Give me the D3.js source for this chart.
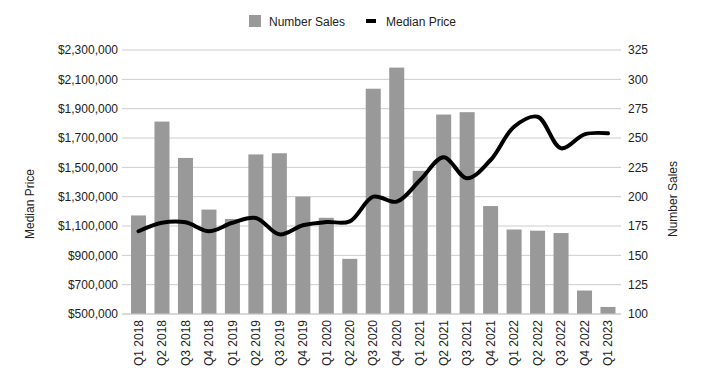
<!DOCTYPE html>
<html><head><meta charset="utf-8">
<script src="https://cdn.jsdelivr.net/npm/d3@7"></script>
<style>body{margin:0;background:#fff;} text{font-family:"Liberation Sans",Arial,sans-serif;}</style>
</head><body><svg id="c" width="703" height="389"></svg>
<script>
const categories = ["Q1 2018","Q2 2018","Q3 2018","Q4 2018","Q1 2019","Q2 2019","Q3 2019","Q4 2019","Q1 2020","Q2 2020","Q3 2020","Q4 2020","Q1 2021","Q2 2021","Q3 2021","Q4 2021","Q1 2022","Q2 2022","Q3 2022","Q4 2022","Q1 2023"];
const numberSales = [184,264,233,189,181,236,237,200,182,147,292,310,222,270,272,192,172,171,169,120,106];
const medianPrice = [1064000,1122000,1125000,1064000,1122000,1155000,1043000,1105000,1127000,1132000,1300000,1266000,1414000,1568000,1425000,1550000,1777000,1845000,1630000,1725000,1732000];
const leftTicks = [500000,700000,900000,1100000,1300000,1500000,1700000,1900000,2100000,2300000];
const rightTicks = [100,125,150,175,200,225,250,275,300,325];

const svg = d3.select("#c");
const L = 122, R = 621, T = 50, B = 314;
const x = d3.scaleBand().domain(categories).range([131, 615.5]).paddingInner(0.36).paddingOuter(0);
const yL = d3.scaleLinear().domain([500000, 2300000]).range([B, T]);
const yR = d3.scaleLinear().domain([100, 325]).range([B, T]);
const fmt = d3.format("$,");

// gridlines
svg.append("g").selectAll("line").data(leftTicks).join("line")
  .attr("x1", L).attr("x2", R).attr("y1", d => yL(d)).attr("y2", d => yL(d))
  .attr("stroke", "#cccccc").attr("stroke-width", 1);

// left axis
const la = svg.append("g").attr("transform", `translate(${L},0)`)
  .call(d3.axisLeft(yL).tickValues(leftTicks).tickFormat(fmt).tickSize(0).tickPadding(4));
la.select(".domain").remove();
la.selectAll("text").attr("font-size", 12).attr("fill", "#222").attr("font-family", "Liberation Sans, Arial, sans-serif");

// right axis
const ra = svg.append("g").attr("transform", `translate(${R},0)`)
  .call(d3.axisRight(yR).tickValues(rightTicks).tickSize(0).tickPadding(7));
ra.select(".domain").remove();
ra.selectAll("text").attr("font-size", 12).attr("fill", "#222").attr("font-family", "Liberation Sans, Arial, sans-serif");

// bars
svg.append("g").selectAll("rect").data(categories).join("rect")
  .attr("x", d => x(d)).attr("width", x.bandwidth())
  .attr("y", (d, i) => yR(numberSales[i])).attr("height", (d, i) => B - yR(numberSales[i]))
  .attr("fill", "#999999");

// baseline
svg.append("line").attr("x1", L).attr("x2", R).attr("y1", B).attr("y2", B).attr("stroke", "#cccccc");

// line
const line = d3.line().x((d, i) => x(categories[i]) + x.bandwidth() / 2).y(d => yL(d)).curve(d3.curveCatmullRom.alpha(0.5));
svg.append("path").datum(medianPrice).attr("d", line)
  .attr("fill", "none").attr("stroke", "#000").attr("stroke-width", 4).attr("stroke-linejoin", "round").attr("stroke-linecap", "round");

// x axis
const xa = svg.append("g").attr("transform", `translate(0,${B})`)
  .call(d3.axisBottom(x).tickSize(0).tickPadding(0));
xa.select(".domain").remove();
xa.selectAll("text").attr("font-size", 12).attr("fill", "#222").attr("font-family", "Liberation Sans, Arial, sans-serif")
  .attr("text-anchor", "end").attr("transform", "translate(0,6) rotate(-90)").attr("dy", "0.35em").attr("x", 0).attr("y", 0);

// axis titles
svg.append("text").attr("transform", "translate(34,204) rotate(-90)").attr("text-anchor", "middle")
  .attr("font-size", 12).attr("fill", "#222").text("Median Price");
svg.append("text").attr("transform", "translate(677,199) rotate(-90)").attr("text-anchor", "middle")
  .attr("font-size", 12).attr("fill", "#222").text("Number Sales");

// legend
const lg = svg.append("g");
lg.append("rect").attr("x", 249).attr("y", 15).attr("width", 12).attr("height", 12).attr("fill", "#999999");
lg.append("text").attr("x", 269).attr("y", 25.5).attr("font-size", 12).attr("fill", "#222").text("Number Sales");
lg.append("rect").attr("x", 366).attr("y", 19).attr("width", 10).attr("height", 4).attr("fill", "#000");
lg.append("text").attr("x", 386).attr("y", 25.5).attr("font-size", 12).attr("fill", "#222").text("Median Price");
</script></body></html>
